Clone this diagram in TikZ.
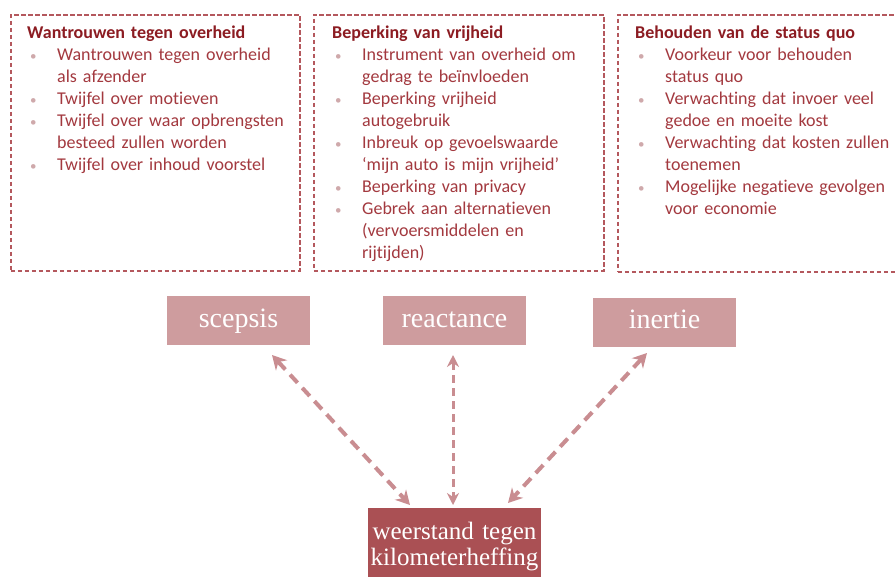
\documentclass[tikz,border=0pt]{standalone}
\usepackage{fontspec}
\setmainfont{Carlito}[Ligatures=NoCommon]
\newfontfamily\tnr{Liberation Serif}
\usetikzlibrary{arrows.meta}
\definecolor{headc}{HTML}{8C1C22}
\definecolor{itemc}{HTML}{A3393F}
\definecolor{dashc}{HTML}{B4585D}
\definecolor{bulc}{HTML}{CFA9AB}
\definecolor{lightbox}{HTML}{CE9C9E}
\definecolor{darkbox}{HTML}{AA5054}
\definecolor{arrc}{HTML}{C98D91}
\newcommand\nl{\hfil\break}
\newcommand\itm[1]{\par\noindent\hangindent=30pt\hangafter=0\llap{\makebox[27pt][l]{\textcolor{bulc}{\fontsize{13}{13}\selectfont\textbullet}}}#1}
\begin{document}
\begin{tikzpicture}[x=1pt,y=-1pt,
  grp/.style={draw=dashc, line width=1.6pt, dash pattern=on 4.5pt off 2.5pt, anchor=north west, inner sep=0pt},
  txt/.style={anchor=base west, text width=290pt, inner sep=0pt, font=\fontsize{18}{22}\selectfont, text=itemc},
  factor/.style={fill=lightbox, minimum width=143pt, minimum height=49pt, inner sep=0pt, text=white, font=\tnr\fontsize{28}{30}\selectfont, text height=19pt, text depth=6pt},
  tipd/.tip={Stealth[length=14pt,width=15pt,inset=4.5pt]},
  tipv/.tip={Stealth[length=12pt,width=12pt,inset=4pt]},
  diag/.style={draw=arrc, line width=4pt, dash pattern=on 11pt off 7pt, tipd-tipd},
  vert/.style={draw=arrc, line width=3pt, dash pattern=on 8pt off 5pt, tipv-tipv}
]
\useasboundingbox (0,0) rectangle (896,576);
\clip (0,0) rectangle (896,576);
\fill[white] (0,0) rectangle (896,576);

\node[grp, minimum width=289pt, minimum height=256pt] (g1) at (10,14) {};
\node[grp, minimum width=290pt, minimum height=256pt] (g2) at (313,14) {};
\node[grp, minimum width=300pt, minimum height=257pt] (g3) at (617,14) {};

\node[txt] (t1) at (27,38) {\textcolor{headc}{\bfseries Wantrouwen tegen overheid}%
\itm{Wantrouwen tegen overheid\nl als afzender}%
\itm{Twijfel over motieven}%
\itm{Twijfel over waar opbrengsten\nl besteed zullen worden}%
\itm{Twijfel over inhoud voorstel}\par};

\node[txt] (t2) at (332,38) {\textcolor{headc}{\bfseries Beperking van vrijheid}%
\itm{Instrument van overheid om\nl gedrag te beïnvloeden}%
\itm{Beperking vrijheid\nl autogebruik}%
\itm{Inbreuk op gevoelswaarde\nl ‘mijn auto is mijn vrijheid’}%
\itm{Beperking van privacy}%
\itm{Gebrek aan alternatieven\nl (vervoersmiddelen en\nl rijtijden)}\par};

\node[txt] (t3) at (635,38) {\textcolor{headc}{\bfseries Behouden van de status quo}%
\itm{Voorkeur voor behouden\nl status quo}%
\itm{Verwachting dat invoer veel\nl gedoe en moeite kost}%
\itm{Verwachting dat kosten zullen\nl toenemen}%
\itm{Mogelijke negatieve gevolgen\nl voor economie}\par};

\node[factor] (scepsis) at (238.5,320.5) {scepsis};
\node[factor] (reactance) at (454.5,320.5) {reactance};
\node[factor] (inertie) at (664.5,322) {inertie};

\node[fill=darkbox, anchor=north, text width=173pt, align=center, inner xsep=0pt, inner ysep=14pt,
  text=white, font=\tnr\fontsize{25}{26}\selectfont] (weerstand) at (454.5,508)
  {weerstand tegen\\kilometerheffing\\[10pt]};

\coordinate (sA) at (272,355);
\coordinate (wA) at (410,505);
\coordinate (rA) at (453,355);
\coordinate (wB) at (453,505);
\coordinate (iA) at (647,353);
\coordinate (wC) at (508,503);

\draw[diag] (sA) -- (wA);
\draw[vert] (rA) -- (wB);
\draw[diag] (iA) -- (wC);
\end{tikzpicture}
\end{document}
